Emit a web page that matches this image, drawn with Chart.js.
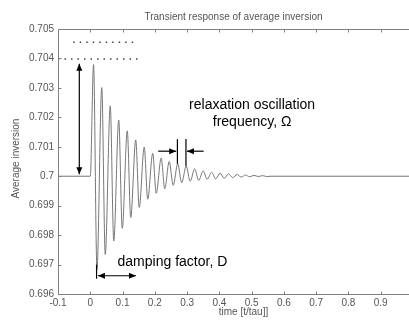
<!DOCTYPE html>
<html>
<head>
<meta charset="utf-8">
<script src="https://cdn.jsdelivr.net/npm/chart.js@4"></script>
<style>
  html, body { margin: 0; padding: 0; background: #fff; }
  canvas { display: block; }
</style>
</head>
<body>
<canvas id="chart" width="409" height="322"></canvas>
<script>
// Values (MATLAB figure, x cropped at the right).
const titleText = "Transient response of average inversion";
const xLabel = "time [t/tau]]";
const yLabel = "Average inversion";
const xTicks = [-0.1, 0, 0.1, 0.2, 0.3, 0.4, 0.5, 0.6, 0.7, 0.8, 0.9];
const yTicks = [0.696, 0.697, 0.698, 0.699, 0.7, 0.701, 0.702, 0.703, 0.704, 0.705];

// steady state before the step
const leadTimes = [-0.1, 0];
const leadValues = [0.7, 0.7];
// oscillation extrema
const peakTimes = [0.0102, 0.0356, 0.0619, 0.0882, 0.1146, 0.1409, 0.1672, 0.1935, 0.2198, 0.2446, 0.2709,
  0.2972, 0.3235, 0.3498, 0.3762, 0.4025, 0.4288, 0.4551, 0.4814, 0.5077, 0.5341];
const peakValues = [0.70379, 0.70301, 0.70239, 0.70191, 0.70154, 0.70123, 0.70099, 0.70078, 0.70062, 0.70050, 0.70042,
  0.70034, 0.70025, 0.70018, 0.70013, 0.70010, 0.70008, 0.70006, 0.70004, 0.70003, 0.70002];
const troughTimes = [0.0207, 0.0464, 0.0728, 0.0991, 0.1254, 0.1517, 0.1780, 0.2043, 0.2307, 0.2570, 0.2833,
  0.3096, 0.3359, 0.3622, 0.3885, 0.4149, 0.4412, 0.4675, 0.4938, 0.5201, 0.5464];
const troughValues = [0.69684, 0.69734, 0.69780, 0.69823, 0.69860, 0.69894, 0.69922, 0.69942, 0.69957, 0.69969, 0.69978,
  0.69983, 0.69986, 0.69990, 0.69991, 0.69993, 0.69995, 0.69997, 0.69998, 0.69999, 0.69999];
// settled
const tailTimes = [0.56, 1.0];
const tailValues = [0.7, 0.7];

// the two dotted rows near the top
const dotRowValues = [0.70455, 0.70398];
const dotRowStarts = [-0.053, -0.1];
const dotRowEnds = [0.133, 0.155];

const FONT = '"Liberation Sans", Arial, Helvetica, sans-serif';
const AXIS = "#808080";
const LABEL = "#555";

const pairs = (ts, vs) => ts.map((t, i) => ({ x: t, y: vs[i] }));
const inversion = [
  ...pairs(leadTimes, leadValues),
  ...pairs(peakTimes, peakValues),
  ...pairs(troughTimes, troughValues),
  ...pairs(tailTimes, tailValues),
].sort((a, b) => a.x - b.x);

const fmt = (v) => String(Number(v.toFixed(3)));

// Annotations in data coordinates.
const arrows = [
  { x1: -0.034, y1: 0.70007, x2: -0.034, y2: 0.70382, both: true },
  { x1: 0.0238, y1: 0.69662, x2: 0.1415, y2: 0.69662, both: true },
  { x1: 0.2105, y1: 0.70085, x2: 0.2663, y2: 0.70085 },
  { x1: 0.3514, y1: 0.70085, x2: 0.2995, y2: 0.70085 },
];
const bars = [
  { x1: 0.0195, y1: 0.6970, x2: 0.0195, y2: 0.69652 },
  { x1: 0.2700, y1: 0.70126, x2: 0.2700, y2: 0.70042 },
  { x1: 0.2965, y1: 0.70126, x2: 0.2965, y2: 0.70034 },
];
const notes = [
  { text: "relaxation oscillation", x: 0.5015, y: 0.70242, align: "center" },
  { text: "frequency, \u03A9", x: 0.5015, y: 0.70185, align: "center" },
  { text: "damping factor, D", x: 0.0845, y: 0.69708, align: "left" },
];

function head(ctx, x, y, ang) {
  const len = 7, half = 3;
  const c = Math.cos(ang), s = Math.sin(ang);
  ctx.beginPath();
  ctx.moveTo(x, y);
  ctx.lineTo(x - len * c + half * s, y - len * s - half * c);
  ctx.lineTo(x - len * c - half * s, y - len * s + half * c);
  ctx.closePath();
  ctx.fill();
}

const annotate = {
  id: "annotate",
  afterDatasetsDraw(chart) {
    const { ctx, scales: { x, y } } = chart;
    ctx.save();
    ctx.strokeStyle = "#000";
    ctx.fillStyle = "#000";
    ctx.lineWidth = 1.2;
    for (const b of bars) {
      ctx.beginPath();
      ctx.moveTo(x.getPixelForValue(b.x1), y.getPixelForValue(b.y1));
      ctx.lineTo(x.getPixelForValue(b.x2), y.getPixelForValue(b.y2));
      ctx.stroke();
    }
    for (const a of arrows) {
      const x1 = x.getPixelForValue(a.x1), y1 = y.getPixelForValue(a.y1);
      const x2 = x.getPixelForValue(a.x2), y2 = y.getPixelForValue(a.y2);
      ctx.beginPath(); ctx.moveTo(x1, y1); ctx.lineTo(x2, y2); ctx.stroke();
      const ang = Math.atan2(y2 - y1, x2 - x1);
      head(ctx, x2, y2, ang);
      if (a.both) head(ctx, x1, y1, ang + Math.PI);
    }
    ctx.font = "14px " + FONT;
    ctx.textBaseline = "middle";
    for (const n of notes) {
      ctx.textAlign = n.align;
      ctx.fillText(n.text, x.getPixelForValue(n.x), y.getPixelForValue(n.y));
    }
    ctx.restore();
  },
};

// MATLAB style box with inward ticks, plus title and axis labels.
const frame = {
  id: "frame",
  afterDraw(chart) {
    const { ctx, chartArea: a, scales: { x, y } } = chart;
    const L = Math.round(a.left) + 0.5, T = Math.round(a.top) + 0.5, B = Math.round(a.bottom) + 0.5;
    const R = a.right + 2;
    ctx.save();
    ctx.strokeStyle = AXIS;
    ctx.lineWidth = 1;
    ctx.beginPath();
    ctx.moveTo(R, T); ctx.lineTo(L, T); ctx.lineTo(L, B); ctx.lineTo(R, B);
    for (const v of xTicks) {
      const px = Math.round(x.getPixelForValue(v)) + 0.5;
      ctx.moveTo(px, T); ctx.lineTo(px, T + 3);
      ctx.moveTo(px, B); ctx.lineTo(px, B - 3);
    }
    for (const v of yTicks) {
      const py = Math.round(y.getPixelForValue(v)) + 0.5;
      ctx.moveTo(L, py); ctx.lineTo(L + 3, py);
    }
    ctx.stroke();

    ctx.fillStyle = LABEL;
    ctx.font = "10px " + FONT;
    ctx.textAlign = "center";
    ctx.textBaseline = "middle";
    ctx.fillText(titleText, (a.left + a.right) / 2, a.top - 12);
    ctx.fillText(xLabel, (a.left + a.right) / 2 + 10, a.bottom + 18);
    ctx.translate(16, (a.top + a.bottom) / 2 - 3);
    ctx.rotate(-Math.PI / 2);
    ctx.fillText(yLabel, 0, 0);
    ctx.restore();
  },
};

const tickStyle = { font: { size: 10, family: FONT }, color: LABEL, autoSkip: false, maxRotation: 0, callback: fmt };

new Chart(document.getElementById("chart"), {
  type: "line",
  data: {
    datasets: [
      { data: inversion, borderColor: "#777", borderWidth: 1, pointRadius: 0,
        cubicInterpolationMode: "monotone", fill: false },
      ...dotRowValues.map((v, i) => ({
        data: [{ x: dotRowStarts[i], y: v }, { x: dotRowEnds[i], y: v }],
        borderColor: "#444", borderWidth: 1.5, borderDash: [1.5, 5], pointRadius: 0, fill: false,
      })),
    ],
  },
  options: {
    responsive: false,
    animation: false,
    layout: { padding: { top: 29, right: 0, left: 0, bottom: 0 } },
    plugins: { legend: { display: false }, tooltip: { enabled: false }, title: { display: false } },
    scales: {
      x: {
        type: "linear", min: -0.1, max: 0.9876,
        afterBuildTicks: (s) => { s.ticks = xTicks.map((value) => ({ value })); },
        afterFit: (s) => { s.height = 28; },
        ticks: { ...tickStyle, padding: 3 },
        grid: { display: false, drawTicks: false },
        border: { display: false },
      },
      y: {
        type: "linear", min: 0.696, max: 0.705,
        afterBuildTicks: (s) => { s.ticks = yTicks.map((value) => ({ value })); },
        afterFit: (s) => { s.width = 58; },
        ticks: { ...tickStyle, padding: 4 },
        grid: { display: false, drawTicks: false },
        border: { display: false },
      },
    },
  },
  plugins: [annotate, frame],
});
</script>
</body>
</html>
